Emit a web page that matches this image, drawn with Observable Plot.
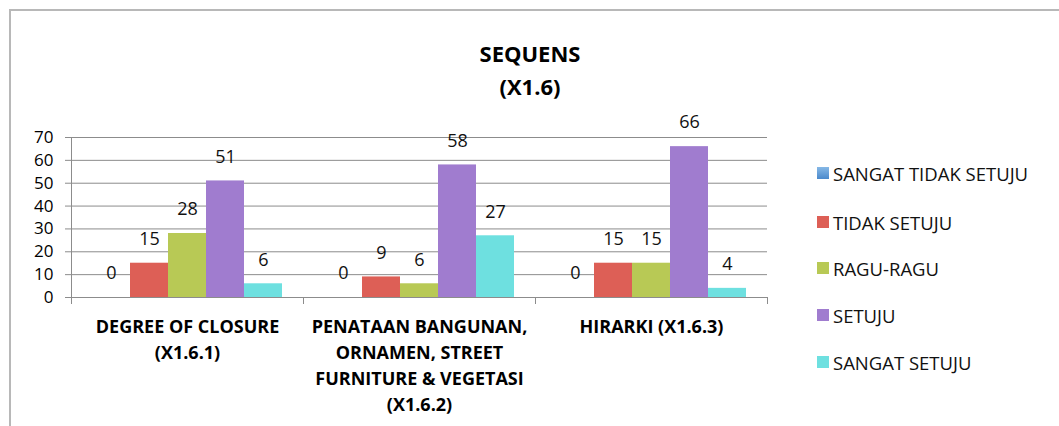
<!DOCTYPE html>
<html>
<head>
<meta charset="utf-8">
<script src="https://cdn.jsdelivr.net/npm/d3@7"></script>
<script src="https://cdn.jsdelivr.net/npm/@observablehq/plot@0.6"></script>
<style>
  html, body { margin: 0; padding: 0; background: #fff; }
  #wrap { position: relative; width: 1059px; height: 426px; overflow: hidden; font-family: "Open Sans", sans-serif; }
  #border { position: absolute; left: 9px; top: 9px; width: 1200px; height: 600px; border: 2px solid #b8b8b8; box-sizing: border-box; }
  #title { position: absolute; left: 330px; width: 400px; top: 37px; text-align: center; font-weight: bold; font-size: 22px; line-height: 33px; color: #000; }
  #chart { position: absolute; left: 0; top: 0; }
  #legend { position: absolute; left: 817px; top: 150px; }
  .row { position: absolute; left: 0; height: 24px; display: flex; align-items: center; white-space: nowrap; font-size: 18.5px; color: #111; }
  .sw { width: 12px; height: 12px; margin-right: 4px; }
</style>
</head>
<body>
<div id="wrap">
  <div id="border"></div>
  <div id="chart"></div>
  <div id="title"></div>
  <div id="legend"></div>
</div>
<script>
const titleLines = ["SEQUENS", "(X1.6)"];
const categories = [
  "DEGREE OF CLOSURE\n(X1.6.1)",
  "PENATAAN BANGUNAN,\nORNAMEN, STREET\nFURNITURE & VEGETASI\n(X1.6.2)",
  "HIRARKI (X1.6.3)"
];
const series = ["SANGAT TIDAK SETUJU", "TIDAK SETUJU", "RAGU-RAGU", "SETUJU", "SANGAT SETUJU"];
const sangatTidakSetuju = [0, 0, 0];
const tidakSetuju = [15, 9, 15];
const raguRagu = [28, 6, 15];
const setuju = [51, 58, 66];
const sangatSetuju = [6, 27, 4];
const yTicks = [0, 10, 20, 30, 40, 50, 60, 70];
const colors = ["#5b9bd5", "#dd5f56", "#b8c955", "#a07ccf", "#6ee0e0"];

const seriesValues = [sangatTidakSetuju, tidakSetuju, raguRagu, setuju, sangatSetuju];
const rows = [];
categories.forEach((c, i) => {
  series.forEach((s, j) => rows.push({category: c, series: s, value: seriesValues[j][i]}));
});

document.getElementById("title").innerHTML = titleLines.map(t => `<div>${t}</div>`).join("");

const axisGray = "#8c8c8c";
const plot = Plot.plot({
  width: 790,
  height: 426,
  marginTop: 137,
  marginBottom: 129,
  marginLeft: 70,
  marginRight: 22,
  style: {fontFamily: "Open Sans", fontSize: "17px", color: "#000", background: "transparent"},
  fx: {domain: categories, padding: 0, label: null},
  x: {domain: series, paddingInner: 0, paddingOuter: 0.49, axis: null},
  y: {domain: [0, 70], ticks: yTicks, label: null},
  color: {domain: series, range: colors},
  marks: [
    Plot.gridY(yTicks, {stroke: axisGray, strokeOpacity: 1}),
    Plot.barY(rows, {fx: "category", x: "series", y: "value", fill: "series"}),
    Plot.text(rows, {fx: "category", x: "series", y: "value", text: d => String(d.value), dy: -24, fontSize: 18, fill: "#111"}),
    Plot.ruleY([0], {stroke: axisGray}),
    Plot.frame({anchor: "left", stroke: axisGray, facetAnchor: "left", insetBottom: -6}),
    Plot.frame({anchor: "left", stroke: axisGray, insetTop: 160, insetBottom: -6}),
    Plot.frame({anchor: "right", stroke: axisGray, insetTop: 160, insetBottom: -6}),
    Plot.axisY(yTicks, {tickSize: 6, tickPadding: 12, fontSize: 17, stroke: axisGray, fill: "#000", label: null}),
    Plot.axisFx({anchor: "bottom", tickSize: 0, tickPadding: 17, fontSize: 18, fontWeight: "bold", lineHeight: 1.45, fill: "#000", label: null})
  ]
});
document.getElementById("chart").appendChild(plot);

const legend = document.getElementById("legend");
const rowTops = [11, 60, 106, 153, 200];
series.forEach((s, j) => {
  const r = document.createElement("div");
  r.className = "row";
  r.style.top = rowTops[j] + "px";
  const sw = document.createElement("div");
  sw.className = "sw";
  sw.style.background = j === 0 ? "linear-gradient(#86b8e6, #4a89cc)" : colors[j];
  r.appendChild(sw);
  const t = document.createElement("span");
  t.textContent = s;
  r.appendChild(t);
  legend.appendChild(r);
});
</script>
</body>
</html>
